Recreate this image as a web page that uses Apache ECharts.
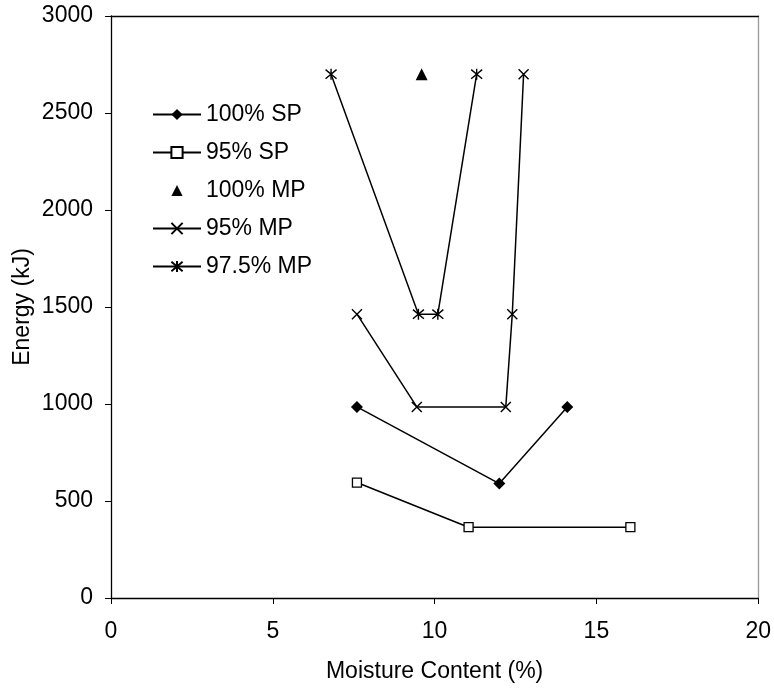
<!DOCTYPE html>
<html>
<head>
<meta charset="utf-8">
<script src="https://cdn.jsdelivr.net/npm/echarts@6/dist/echarts.min.js"></script>
<style>
html,body{margin:0;padding:0;background:#fff;}
#chart{width:774px;height:688px;}
</style>
</head>
<body>
<div id="chart"></div>
<script>
// Data
const seriesNames = ['100% SP', '95% SP', '100% MP', '95% MP', '97.5% MP'];
const sp100X = [7.6, 12.0, 14.1];
const sp100Y = [985, 590, 985];
const sp95X = [7.6, 11.05, 16.05];
const sp95Y = [595, 365, 365];
const mp100X = [9.6];
const mp100Y = [2700];
const mp95X = [7.6, 9.45, 12.2, 12.4, 12.75];
const mp95Y = [1463, 985, 985, 1463, 2700];
const mp975X = [6.8, 9.5, 10.1, 11.3];
const mp975Y = [2700, 1463, 1463, 2700];
const xTicks = [0, 5, 10, 15, 20];
const yTicks = [0, 500, 1000, 1500, 2000, 2500, 3000];

function pairs(xs, ys) { return xs.map((x, i) => [x, ys[i]]); }

const FONT = 'Liberation Sans, Arial, sans-serif';
const FS = 23;
const X_PATH = 'path://M0,0L10,10M10,0L0,10';
const STAR_PATH = 'path://M0,0L10,10M10,0L0,10M5,-1L5,11';

const chart = echarts.init(document.getElementById('chart'), null, {renderer: 'canvas'});
const option = {
  backgroundColor: '#fff',
  animation: false,
  textStyle: {fontFamily: FONT, color: '#000'},
  grid: {left: 111, right: 15, top: 16, bottom: 89, containLabel: false},
  legend: {
    orient: 'vertical',
    left: 147,
    top: 98,
    padding: 5,
    itemWidth: 48,
    itemHeight: 14,
    itemGap: 15,
    data: seriesNames,
    textStyle: {fontFamily: FONT, fontSize: FS, lineHeight: 23, color: '#000'}
  },
  xAxis: [{
    type: 'value',
    min: xTicks[0],
    max: xTicks[xTicks.length - 1],
    interval: 5,
    name: 'Moisture Content (%)',
    nameLocation: 'middle',
    nameGap: 62,
    nameMoveOverlap: false,
    nameTextStyle: {fontFamily: FONT, fontSize: FS, color: '#000'},
    axisLine: {show: true, onZero: false, lineStyle: {color: '#000', width: 1.3}},
    axisTick: {show: true, inside: false, length: 6, lineStyle: {color: '#000', width: 1}},
    axisLabel: {margin: 22, fontFamily: FONT, fontSize: FS, color: '#000',
      formatter: v => String(v)},
    splitLine: {show: false}
  }, {
    type: 'value',
    position: 'top',
    min: xTicks[0],
    max: xTicks[xTicks.length - 1],
    axisLine: {show: true, onZero: false, lineStyle: {color: '#000', width: 1.3}},
    axisTick: {show: false},
    axisLabel: {show: false},
    splitLine: {show: false}
  }],
  yAxis: [{
    type: 'value',
    min: yTicks[0],
    max: yTicks[yTicks.length - 1],
    interval: 500,
    name: 'Energy (kJ)',
    nameLocation: 'middle',
    nameGap: 77,
    nameMoveOverlap: false,
    nameTextStyle: {fontFamily: FONT, fontSize: FS, color: '#000'},
    axisLine: {show: true, onZero: false, lineStyle: {color: '#000', width: 1.3}},
    axisTick: {show: true, inside: false, length: 6, lineStyle: {color: '#000', width: 1}},
    axisLabel: {margin: 18, fontFamily: FONT, fontSize: FS, color: '#000',
      formatter: v => String(v)},
    splitLine: {show: false}
  }, {
    type: 'value',
    position: 'right',
    min: yTicks[0],
    max: yTicks[yTicks.length - 1],
    axisLine: {show: true, onZero: false, lineStyle: {color: '#999', width: 1.3}},
    axisTick: {show: false},
    axisLabel: {show: false},
    splitLine: {show: false}
  }],
  series: [
    {
      name: seriesNames[0], type: 'line', xAxisIndex: 0, yAxisIndex: 0,
      data: pairs(sp100X, sp100Y),
      symbol: 'diamond', symbolSize: 12,
      lineStyle: {color: '#000', width: 1.5},
      itemStyle: {color: '#000', borderColor: '#000', borderWidth: 0}
    },
    {
      name: seriesNames[1], type: 'line', xAxisIndex: 0, yAxisIndex: 0,
      data: pairs(sp95X, sp95Y),
      symbol: 'rect', symbolSize: 9,
      lineStyle: {color: '#000', width: 1.5},
      itemStyle: {color: '#fff', borderColor: '#000', borderWidth: 1.3}
    },
    {
      name: seriesNames[2], type: 'line', xAxisIndex: 0, yAxisIndex: 0,
      data: pairs(mp100X, mp100Y),
      symbol: 'triangle', symbolSize: 12,
      lineStyle: {color: '#000', width: 0, opacity: 0},
      itemStyle: {color: '#000', opacity: 1}
    },
    {
      name: seriesNames[3], type: 'line', xAxisIndex: 0, yAxisIndex: 0,
      data: pairs(mp95X, mp95Y),
      symbol: X_PATH, symbolSize: 10,
      lineStyle: {color: '#000', width: 1.5},
      itemStyle: {color: 'rgba(0,0,0,0)', borderColor: '#000', borderWidth: 1.4}
    },
    {
      name: seriesNames[4], type: 'line', xAxisIndex: 0, yAxisIndex: 0,
      data: pairs(mp975X, mp975Y),
      symbol: STAR_PATH, symbolSize: 11,
      lineStyle: {color: '#000', width: 1.5},
      itemStyle: {color: 'rgba(0,0,0,0)', borderColor: '#000', borderWidth: 1.4}
    }
  ]
};
chart.setOption(option);
</script>
</body>
</html>
